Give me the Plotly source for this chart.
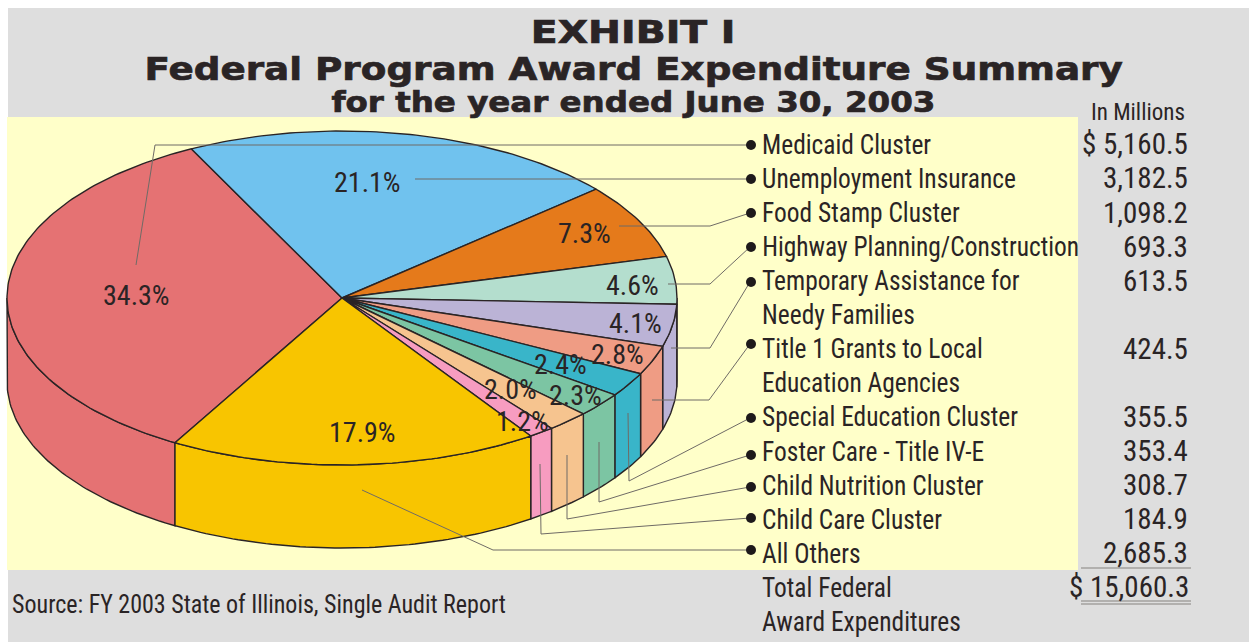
import json
import math
import plotly.graph_objects as go

# ---- data ----
programs = ["Medicaid Cluster", "Unemployment Insurance", "Food Stamp Cluster",
            "Highway Planning/Construction", "Temporary Assistance for Needy Families",
            "Title 1 Grants to Local Education Agencies", "Special Education Cluster",
            "Foster Care - Title IV-E", "Child Nutrition Cluster", "Child Care Cluster",
            "All Others"]
amounts = [5160.5, 3182.5, 1098.2, 693.3, 613.5, 424.5, 355.5, 353.4, 308.7, 184.9, 2685.3]
amount_labels = ["$ 5,160.5", "3,182.5", "1,098.2", "693.3", "613.5", "424.5",
                 "355.5", "353.4", "308.7", "184.9", "2,685.3"]
pct_labels = ["34.3%", "21.1%", "7.3%", "4.6%", "4.1%", "2.8%", "2.4%", "2.3%", "2.0%", "1.2%", "17.9%"]
colors = ["#E57273", "#70C2EE", "#E57A1B", "#B4DECE", "#BBB3D6", "#EF9C84",
          "#39B5C9", "#7CC5A3", "#F6C48F", "#F79CC0", "#F8C500"]
row_labels = ["Medicaid Cluster", "Unemployment Insurance", "Food Stamp Cluster",
              "Highway Planning/Construction", "Temporary Assistance for", "Needy Families",
              "Title 1 Grants to Local", "Education Agencies", "Special Education Cluster",
              "Foster Care - Title IV-E", "Child Nutrition Cluster", "Child Care Cluster",
              "All Others", "Total Federal", "Award Expenditures"]
amount_rows = [0, 1, 2, 3, 4, 6, 8, 9, 10, 11, 12]
total_label = "$ 15,060.3"

# ---- layout geometry ----
W, H = 1249, 642
CX, CY, RX, RY, DEPTH = 342, 298, 335, 167, 83
START = 209.9
INK = "#2A2425"
NARROW = "'Liberation Sans Narrow', 'Roboto Condensed', 'Liberation Sans', sans-serif"
WIDE = "'DejaVu Sans', sans-serif"
ROW0, ROWSTEP = 144.4, 34.07


def pt(a, dz=0):
    r = math.radians(a)
    return CX + RX * math.sin(r), CY - RY * math.cos(r) + dz


def arc(a0, a1, dz=0):
    n = max(2, int(abs(a1 - a0)) + 2)
    return [pt(a0 + (a1 - a0) * i / (n - 1), dz) for i in range(n)]


fig = go.Figure()
total = sum(amounts)
angles = [START]
for v in amounts:
    angles.append(angles[-1] + v / total * 360)

# side walls (only the visible front half, clock angles 90..270)
for name, a0, a1, c in zip(programs, angles, angles[1:], colors):
    for k in (-360, 0):
        lo, hi = max(a0 + k, 90), min(a1 + k, 270)
        if hi > lo:
            pts = arc(lo, hi) + arc(hi, lo, DEPTH)
            pts.append(pts[0])
            fig.add_trace(go.Scatter(x=[p[0] for p in pts], y=[p[1] for p in pts], mode="lines",
                                     fill="toself", fillcolor=c, line=dict(color=INK, width=1.4),
                                     name=name, hoverinfo="name", showlegend=False))
# top faces
for name, a0, a1, c in zip(programs, angles, angles[1:], colors):
    pts = [(CX, CY)] + arc(a0, a1) + [(CX, CY)]
    fig.add_trace(go.Scatter(x=[p[0] for p in pts], y=[p[1] for p in pts], mode="lines",
                             fill="toself", fillcolor=c, line=dict(color=INK, width=1.4),
                             name=name, hoverinfo="name", showlegend=False))

shapes = [
    dict(type="rect", x0=8, x1=W, y0=8, y1=H, fillcolor="#DEDEDE", line_width=0, layer="below"),
    dict(type="rect", x0=7, x1=1078, y0=117, y1=570, fillcolor="#FFFFC9", line_width=0, layer="below"),
]
leaders = [
    [(136, 265), (155, 145), (750, 145)],
    [(415, 179), (750, 179)],
    [(619, 226), (710, 226), (750, 213)],
    [(668, 284), (710, 284), (750, 247)],
    [(671, 348), (710, 348), (750, 282)],
    [(652, 400), (709, 400), (750, 344)],
    [(628, 413), (629, 481), (750, 418)],
    [(599, 442), (599, 502), (750, 455)],
    [(567, 455), (567, 519), (750, 487)],
    [(540, 464), (541, 534), (750, 518)],
    [(362, 490), (493, 550), (750, 550)],
]
for path in leaders:
    for (x0, y0), (x1, y1) in zip(path, path[1:]):
        shapes.append(dict(type="line", x0=x0, y0=y0, x1=x1, y1=y1, layer="above",
                           line=dict(color="#6F6B66", width=1)))
    ex, ey = path[-1]
    shapes.append(dict(type="circle", x0=ex - 4, x1=ex + 6, y0=ey - 5, y1=ey + 5, layer="above",
                       fillcolor="#1E1A1B", line_width=0))
for y in (568, 601, 604):
    shapes.append(dict(type="line", x0=1081, x1=1191, y0=y, y1=y, layer="above",
                       line=dict(color="#85827F", width=1)))

ann = []
stretch = []   # one entry per annotation: horizontal scale, origin, heavy flag


def text(s, x, y, size, anchor="center", family=NARROW, bold=False, sx=1.0, heavy=False):
    t = f"<b>{s}</b>" if bold else s
    ann.append(dict(text=t, x=x, y=y, xref="x", yref="y", xanchor=anchor, yanchor="middle",
                    showarrow=False, font=dict(family=family, size=size, color=INK)))
    stretch.append([sx, anchor, heavy])


text("EXHIBIT I", 633, 31.5, 32, family=WIDE, bold=True, sx=1.23, heavy=True)
text("Federal Program Award Expenditure Summary", 633, 68.5, 32, family=WIDE, bold=True, sx=1.166, heavy=True)
text("for the year ended June 30, 2003", 633, 102.5, 28, family=WIDE, bold=True, sx=1.16, heavy=True)
text("In Millions", 1138, 112, 24, sx=0.96)
for i, s in enumerate(row_labels):
    text(s, 760, ROW0 + i * ROWSTEP, 27.5, anchor="left", sx=0.925)
for r, s in zip(amount_rows, amount_labels):
    text(s, 1190, ROW0 + r * ROWSTEP, 29, anchor="right")
text(total_label, 1191, ROW0 + 13 * ROWSTEP, 29, anchor="right")
text("Source: FY 2003 State of Illinois, Single Audit Report", 10, 604, 25, anchor="left", sx=0.96)

pct_pos = [(136, 295), (367, 182), (584, 233), (632, 285), (635, 323), (617, 354),
           (560, 364), (575, 395), (510, 389), (522, 421), (362, 432)]
for s, (x, y) in zip(pct_labels, pct_pos):
    text(s, x, y, 28)

fig.update_layout(width=W, height=H, margin=dict(l=0, r=0, t=0, b=0), paper_bgcolor="white",
                  plot_bgcolor="white", showlegend=False, shapes=shapes, annotations=ann,
                  xaxis=dict(range=[0, W], visible=False, fixedrange=True),
                  yaxis=dict(range=[H, 0], visible=False, fixedrange=True))

post = """
document.body.style.margin='0';document.body.style.overflow='hidden';
var spec = %s;
function applyStretch(){
  document.querySelectorAll('.annotation').forEach(function(g,i){
    var s = spec[i], t = g.querySelector('text');
    if(!s || !t) return;
    t.style.transformBox = 'fill-box';
    t.style.transformOrigin = s[1]==='left' ? 'left center' : (s[1]==='right' ? 'right center' : 'center');
    t.style.transform = 'scaleX(' + s[0] + ')';
    if(s[2]){ t.style.stroke = '#2A2425'; t.style.strokeWidth = '0.7px'; }
  });
}
applyStretch(); setTimeout(applyStretch, 50);
""" % json.dumps(stretch)
fig.write_html("out.html", config={"displayModeBar": False}, post_script=post)
